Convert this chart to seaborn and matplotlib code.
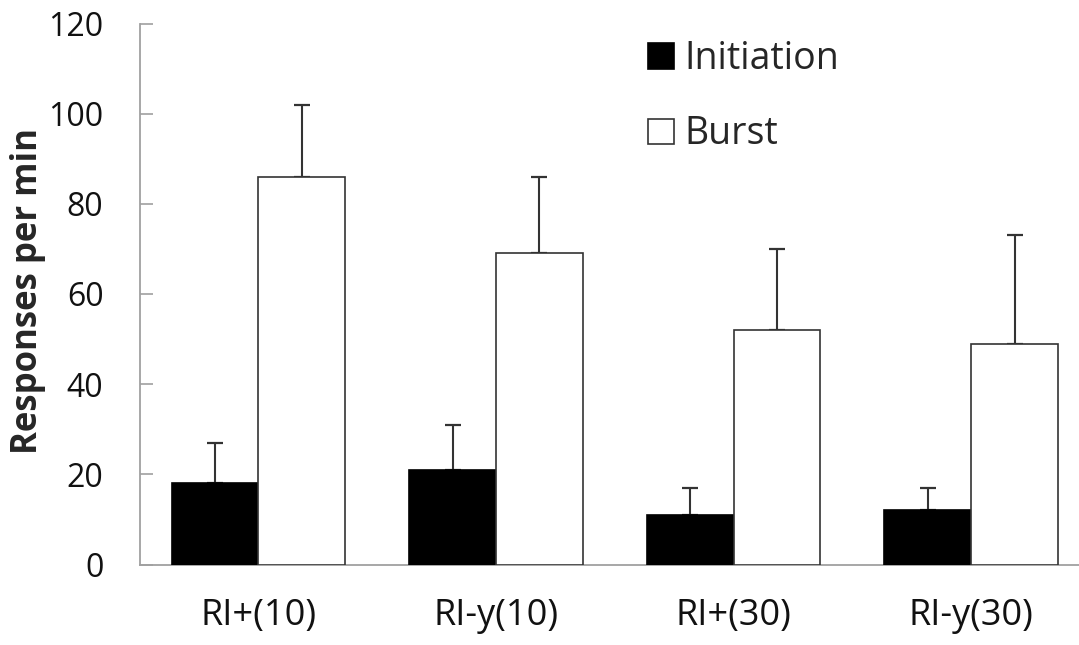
import matplotlib
matplotlib.use("Agg")
import matplotlib.pyplot as plt
import seaborn as sns
import pandas as pd
import numpy as np
from matplotlib.patches import Patch

categories = ["RI+(10)", "RI-y(10)", "RI+(30)", "RI-y(30)"]
series = ["Initiation", "Burst"]
initiation = [18, 21, 11, 12]
burst = [86, 69, 52, 49]
initiation_err = [9, 10, 6, 5]
burst_err = [16, 17, 18, 24]
y_ticks = [0, 20, 40, 60, 80, 100, 120]

sns.set_style("white")
plt.rcParams["font.family"] = ["Open Sans", "DejaVu Sans"]

df = pd.DataFrame({
    "cond": categories * 2,
    "series": [series[0]] * 4 + [series[1]] * 4,
    "value": initiation + burst,
})

W, H = 1079, 645
fig = plt.figure(figsize=(W / 100, H / 100), dpi=100)
ax = fig.add_axes([139.5 / W, 80.5 / H, (1090 - 139.5) / W, (564.5 - 23.5) / H])

sns.barplot(data=df, x="cond", y="value", hue="series", order=categories,
            hue_order=series, palette=["black", "white"], width=0.73,
            errorbar=None, ax=ax, legend=False, zorder=3)

edgecols = ["black", "#333333"]
errs = [initiation_err, burst_err]
vals = [initiation, burst]
bar_conts = list(ax.containers)
for i, cont in enumerate(bar_conts):
    xs = []
    for p in cont.patches:
        p.set_edgecolor(edgecols[i])
        p.set_linewidth(1.2)
        xs.append(p.get_x() + p.get_width() / 2)
    ax.errorbar(xs, vals[i], yerr=[np.zeros(len(xs)), errs[i]], fmt="none",
                ecolor="#333333", elinewidth=1.5, capsize=6, capthick=1.6, zorder=2)

ax.set_xlim(-0.5, 3.5)
ax.set_ylim(0, 120)
ax.set_yticks(y_ticks)
ax.set_xlabel("")
ax.set_ylabel("Responses per min", fontsize=25, fontweight="bold")
ax.yaxis.set_label_coords((46 - 139.5) / (1090 - 139.5), (564.5 - 291) / 541)

for s in ["top", "right"]:
    ax.spines[s].set_visible(False)
for s in ["left", "bottom"]:
    ax.spines[s].set_color("#a0a0a0")
    ax.spines[s].set_linewidth(1.3)

ax.tick_params(axis="y", direction="in", length=9, width=1.2, color="#a0a0a0",
               labelsize=23, pad=26, left=True)
ax.tick_params(axis="x", length=0, labelsize=26, pad=24)
for t in ax.get_xticklabels() + ax.get_yticklabels():
    t.set_color("#111111")

handles = [Patch(facecolor="black", edgecolor="black", lw=1.2),
           Patch(facecolor="white", edgecolor="#333333", lw=1.2)]
leg = ax.legend(handles, series, loc="upper left",
                bbox_to_anchor=(648 / W, (H - 40) / H),
                bbox_transform=fig.transFigure, frameon=False, fontsize=27,
                handlelength=0.7, handleheight=0.67, handletextpad=0.27,
                labelspacing=1.0, borderaxespad=0, borderpad=0)

fig.savefig("out.png", dpi=100)
